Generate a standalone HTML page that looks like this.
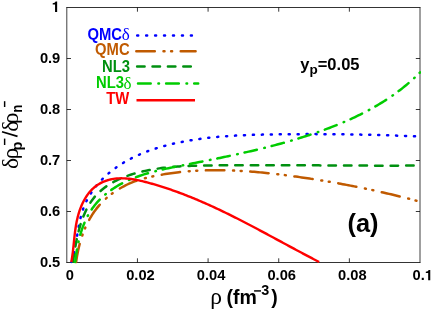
<!DOCTYPE html>
<html><head><meta charset="utf-8"><title>chart</title>
<style>html,body{margin:0;padding:0;background:#fff;}body{width:436px;height:311px;overflow:hidden;position:relative;font-family:"Liberation Sans",sans-serif;}</style>
</head><body>
<svg width="436" height="311" viewBox="0 0 436 311" style="position:absolute;left:0;top:0;display:block;will-change:transform">
<rect x="0" y="0" width="436" height="311" fill="#fff"/>
<defs><clipPath id="c"><rect x="66.8" y="7.5" width="354.2" height="256.5"/></clipPath></defs>
<path d="M66.3,7.5 H420.5 M66.3,262.5 H420.5" fill="none" stroke="#000" stroke-width="0.8"/>
<path d="M66.8,7.5 V262.5 M420.0,7.5 V262.5" fill="none" stroke="#000" stroke-width="0.75"/>
<path d="M137.44,262.5 v-4.2 M137.44,7.5 v4.2 M66.8,211.50 h4.2 M420.0,211.50 h-4.2 M208.08,262.5 v-4.2 M208.08,7.5 v4.2 M66.8,160.50 h4.2 M420.0,160.50 h-4.2 M278.72,262.5 v-4.2 M278.72,7.5 v4.2 M66.8,109.50 h4.2 M420.0,109.50 h-4.2 M349.36,262.5 v-4.2 M349.36,7.5 v4.2 M66.8,58.50 h4.2 M420.0,58.50 h-4.2" stroke="#000" stroke-width="0.78" fill="none"/>
<g clip-path="url(#c)" fill="none" stroke-linejoin="round">
<path d="M71.63,261.91 L72.24,260.00 L72.80,258.06 L73.32,256.09 L73.80,254.10 L74.25,252.09 L74.68,250.06 L75.08,248.01 L75.46,245.94 L75.82,243.86 L76.17,241.77 L76.51,239.67 L76.85,237.56 L77.19,235.45 L77.53,233.33 L77.87,231.22 L78.23,229.10 L78.61,226.99 L79.00,224.89 L79.41,222.79 L79.86,220.70 L80.33,218.62 L80.84,216.56 L81.38,214.52 L81.97,212.49 L82.60,210.48 L83.29,208.50 L84.03,206.54 L84.82,204.61 L85.67,202.70 L86.57,200.83 L87.53,198.98 L88.53,197.15 L89.58,195.36 L90.68,193.59 L91.83,191.85 L93.02,190.15 L94.25,188.47 L95.52,186.82 L96.83,185.20 L98.18,183.61 L99.56,182.05 L100.99,180.52 L102.44,179.03 L103.93,177.57 L105.44,176.13 L106.99,174.74 L108.56,173.37 L110.16,172.04 L111.78,170.74 L113.43,169.47 L115.10,168.23 L116.79,167.03 L118.51,165.86 L120.24,164.72 L122.00,163.61 L123.78,162.53 L125.58,161.47 L127.39,160.45 L129.23,159.46 L131.08,158.49 L132.95,157.55 L134.83,156.64 L136.73,155.75 L138.65,154.90 L140.58,154.06 L142.52,153.25 L144.48,152.47 L146.44,151.71 L148.42,150.97 L150.41,150.26 L152.42,149.57 L154.43,148.90 L156.45,148.26 L158.48,147.63 L160.51,147.03 L162.55,146.45 L164.60,145.88 L166.66,145.34 L168.72,144.81 L170.79,144.31 L172.85,143.82 L174.93,143.35 L177.00,142.90 L179.08,142.46 L181.15,142.04 L183.23,141.63 L185.31,141.24 L187.39,140.87 L189.47,140.51 L191.55,140.16 L193.62,139.83 L195.70,139.51 L197.78,139.20 L199.86,138.91 L201.94,138.63 L204.02,138.36 L206.10,138.11 L208.18,137.86 L210.26,137.63 L212.34,137.41 L214.42,137.20 L216.50,137.00 L218.58,136.81 L220.66,136.63 L222.74,136.46 L224.82,136.30 L226.90,136.15 L228.99,136.00 L231.07,135.87 L233.15,135.74 L235.24,135.62 L237.32,135.51 L239.41,135.40 L241.49,135.31 L243.58,135.21 L245.66,135.13 L247.75,135.05 L249.84,134.97 L251.93,134.90 L254.02,134.84 L256.11,134.78 L258.20,134.72 L260.29,134.67 L262.38,134.62 L264.47,134.58 L266.57,134.54 L268.66,134.50 L270.76,134.46 L272.85,134.42 L274.95,134.39 L277.05,134.36 L279.15,134.33 L281.25,134.30 L283.35,134.28 L285.45,134.25 L287.55,134.23 L289.65,134.21 L291.75,134.20 L293.86,134.18 L295.96,134.17 L298.07,134.15 L300.17,134.14 L302.28,134.13 L304.38,134.13 L306.49,134.12 L308.59,134.12 L310.70,134.12 L312.81,134.12 L314.92,134.12 L317.02,134.13 L319.13,134.14 L321.24,134.14 L323.35,134.15 L325.46,134.17 L327.56,134.18 L329.67,134.20 L331.78,134.21 L333.89,134.23 L336.00,134.25 L338.11,134.28 L340.21,134.30 L342.32,134.33 L344.43,134.36 L346.54,134.39 L348.64,134.42 L350.75,134.45 L352.86,134.49 L354.97,134.52 L357.07,134.56 L359.18,134.60 L361.28,134.64 L363.39,134.69 L365.49,134.73 L367.60,134.78 L369.70,134.83 L371.80,134.88 L373.90,134.94 L376.01,134.99 L378.11,135.05 L380.21,135.10 L382.31,135.16 L384.41,135.22 L386.50,135.29 L388.60,135.35 L390.70,135.42 L392.79,135.49 L394.89,135.56 L396.98,135.63 L399.07,135.70 L401.16,135.77 L403.26,135.85 L405.34,135.93 L407.43,136.01 L409.52,136.09 L411.61,136.17 L413.69,136.26 L415.78,136.34 L417.86,136.43 L419.94,136.52" stroke="#0000ff" stroke-width="2.5" stroke-linecap="round" stroke-dasharray="1.1 7.85"/>
<path d="M76.14,262.02 L76.41,260.07 L76.71,258.12 L77.03,256.16 L77.38,254.21 L77.76,252.26 L78.16,250.31 L78.59,248.37 L79.06,246.43 L79.55,244.49 L80.07,242.57 L80.62,240.65 L81.20,238.75 L81.81,236.85 L82.46,234.97 L83.14,233.10 L83.85,231.24 L84.59,229.40 L85.37,227.58 L86.18,225.77 L87.03,223.98 L87.91,222.21 L88.83,220.46 L89.78,218.73 L90.77,217.03 L91.80,215.35 L92.87,213.69 L93.97,212.07 L95.12,210.46 L96.30,208.89 L97.53,207.35 L98.79,205.83 L100.10,204.35 L101.44,202.90 L102.83,201.48 L104.26,200.10 L105.72,198.75 L107.22,197.44 L108.75,196.16 L110.31,194.92 L111.90,193.71 L113.52,192.54 L115.17,191.40 L116.84,190.30 L118.53,189.24 L120.25,188.22 L121.98,187.23 L123.73,186.28 L125.50,185.37 L127.29,184.50 L129.09,183.67 L130.91,182.88 L132.74,182.13 L134.59,181.42 L136.45,180.76 L138.32,180.14 L140.21,179.55 L142.11,179.00 L144.01,178.48 L145.92,177.98 L147.84,177.52 L149.77,177.07 L151.70,176.64 L153.63,176.23 L155.56,175.83 L157.49,175.45 L159.43,175.08 L161.37,174.73 L163.31,174.39 L165.26,174.06 L167.20,173.75 L169.15,173.46 L171.10,173.18 L173.06,172.91 L175.01,172.66 L176.97,172.42 L178.93,172.19 L180.89,171.98 L182.85,171.78 L184.82,171.59 L186.78,171.41 L188.75,171.25 L190.72,171.10 L192.69,170.96 L194.66,170.84 L196.63,170.72 L198.61,170.62 L200.58,170.53 L202.56,170.45 L204.54,170.39 L206.52,170.33 L208.50,170.28 L210.48,170.25 L212.46,170.22 L214.44,170.21 L216.43,170.21 L218.41,170.21 L220.40,170.23 L222.38,170.25 L224.37,170.29 L226.36,170.33 L228.34,170.39 L230.33,170.45 L232.32,170.52 L234.31,170.61 L236.29,170.70 L238.28,170.79 L240.27,170.90 L242.26,171.02 L244.25,171.14 L246.24,171.27 L248.23,171.41 L250.22,171.55 L252.20,171.70 L254.19,171.86 L256.18,172.03 L258.17,172.20 L260.15,172.38 L262.14,172.57 L264.12,172.76 L266.11,172.96 L268.09,173.17 L270.08,173.38 L272.06,173.60 L274.04,173.82 L276.02,174.05 L278.00,174.28 L279.98,174.52 L281.96,174.76 L283.94,175.01 L285.91,175.26 L287.89,175.51 L289.86,175.77 L291.83,176.04 L293.80,176.31 L295.77,176.58 L297.74,176.85 L299.70,177.13 L301.66,177.41 L303.63,177.70 L305.59,177.99 L307.55,178.28 L309.51,178.58 L311.46,178.88 L313.42,179.18 L315.37,179.48 L317.33,179.79 L319.28,180.11 L321.23,180.43 L323.18,180.75 L325.13,181.07 L327.07,181.40 L329.02,181.73 L330.96,182.06 L332.91,182.40 L334.85,182.75 L336.79,183.09 L338.74,183.44 L340.68,183.80 L342.62,184.15 L344.56,184.51 L346.50,184.88 L348.43,185.25 L350.37,185.62 L352.31,186.00 L354.25,186.38 L356.18,186.76 L358.12,187.15 L360.05,187.54 L361.99,187.93 L363.92,188.33 L365.86,188.74 L367.79,189.14 L369.72,189.56 L371.66,189.97 L373.59,190.39 L375.52,190.81 L377.46,191.24 L379.39,191.67 L381.32,192.11 L383.26,192.55 L385.19,192.99 L387.12,193.44 L389.06,193.89 L390.99,194.34 L392.92,194.80 L394.86,195.27 L396.79,195.73 L398.73,196.20 L400.66,196.68 L402.60,197.16 L404.53,197.65 L406.47,198.13 L408.41,198.63 L410.34,199.12 L412.28,199.63 L414.22,200.13 L416.16,200.64 L418.10,201.16 L420.04,201.67" stroke="#c05a00" stroke-width="2.5" stroke-linecap="round" stroke-dasharray="18.5 8.7 1.0 6.6 1.0 8.6"/>
<path d="M73.03,261.84 L73.28,260.02 L73.54,258.17 L73.81,256.29 L74.09,254.38 L74.38,252.44 L74.69,250.48 L75.02,248.51 L75.36,246.51 L75.72,244.50 L76.10,242.48 L76.50,240.45 L76.92,238.42 L77.37,236.38 L77.84,234.34 L78.34,232.30 L78.86,230.26 L79.42,228.23 L80.00,226.20 L80.62,224.19 L81.27,222.20 L81.95,220.22 L82.66,218.26 L83.42,216.32 L84.21,214.40 L85.04,212.51 L85.91,210.65 L86.82,208.82 L87.78,207.03 L88.77,205.28 L89.82,203.56 L90.91,201.89 L92.05,200.26 L93.23,198.68 L94.47,197.14 L95.76,195.66 L97.10,194.23 L98.48,192.85 L99.91,191.51 L101.38,190.22 L102.89,188.97 L104.44,187.77 L106.03,186.62 L107.65,185.50 L109.31,184.43 L111.01,183.40 L112.73,182.41 L114.49,181.46 L116.27,180.55 L118.08,179.67 L119.91,178.84 L121.77,178.03 L123.65,177.26 L125.54,176.53 L127.46,175.83 L129.39,175.16 L131.34,174.52 L133.30,173.92 L135.27,173.34 L137.26,172.79 L139.25,172.27 L141.24,171.77 L143.25,171.30 L145.25,170.86 L147.26,170.44 L149.26,170.04 L151.27,169.67 L153.28,169.31 L155.29,168.98 L157.30,168.67 L159.30,168.38 L161.31,168.11 L163.32,167.85 L165.33,167.62 L167.34,167.40 L169.35,167.19 L171.37,167.00 L173.38,166.83 L175.39,166.67 L177.40,166.52 L179.41,166.39 L181.43,166.27 L183.44,166.16 L185.45,166.06 L187.47,165.97 L189.48,165.89 L191.50,165.82 L193.51,165.75 L195.53,165.70 L197.54,165.65 L199.56,165.60 L201.57,165.56 L203.59,165.52 L205.61,165.49 L207.62,165.46 L209.64,165.44 L211.66,165.41 L213.68,165.39 L215.69,165.36 L217.71,165.34 L219.73,165.32 L221.75,165.30 L223.77,165.28 L225.79,165.27 L227.81,165.25 L229.83,165.24 L231.85,165.22 L233.87,165.21 L235.89,165.20 L237.91,165.19 L239.93,165.18 L241.95,165.17 L243.98,165.17 L246.00,165.16 L248.02,165.16 L250.04,165.15 L252.06,165.15 L254.09,165.15 L256.11,165.14 L258.13,165.14 L260.15,165.14 L262.18,165.14 L264.20,165.15 L266.22,165.15 L268.25,165.15 L270.27,165.15 L272.30,165.16 L274.32,165.16 L276.34,165.17 L278.37,165.17 L280.39,165.18 L282.42,165.19 L284.44,165.19 L286.47,165.20 L288.49,165.21 L290.52,165.22 L292.54,165.23 L294.57,165.24 L296.59,165.25 L298.62,165.26 L300.64,165.27 L302.67,165.28 L304.69,165.29 L306.72,165.30 L308.74,165.31 L310.77,165.32 L312.79,165.33 L314.82,165.35 L316.84,165.36 L318.87,165.37 L320.89,165.38 L322.92,165.39 L324.94,165.41 L326.97,165.42 L328.99,165.43 L331.02,165.44 L333.04,165.45 L335.07,165.46 L337.09,165.48 L339.12,165.49 L341.14,165.50 L343.17,165.51 L345.19,165.52 L347.22,165.53 L349.24,165.54 L351.27,165.55 L353.29,165.56 L355.31,165.57 L357.34,165.58 L359.36,165.59 L361.39,165.59 L363.41,165.60 L365.43,165.61 L367.46,165.61 L369.48,165.62 L371.50,165.62 L373.53,165.63 L375.55,165.63 L377.57,165.64 L379.59,165.64 L381.62,165.64 L383.64,165.64 L385.66,165.64 L387.68,165.64 L389.70,165.64 L391.73,165.64 L393.75,165.64 L395.77,165.63 L397.79,165.63 L399.81,165.62 L401.83,165.62 L403.85,165.61 L405.87,165.60 L407.89,165.59 L409.91,165.58 L411.93,165.57 L413.94,165.56 L415.96,165.54 L417.98,165.53 L420.00,165.51" stroke="#009010" stroke-width="2.5" stroke-linecap="round" stroke-dasharray="7.5 8.04"/>
<path d="M75.17,262.09 L75.41,260.03 L75.67,257.96 L75.95,255.89 L76.25,253.80 L76.58,251.71 L76.93,249.62 L77.31,247.52 L77.72,245.42 L78.16,243.33 L78.62,241.24 L79.12,239.16 L79.65,237.08 L80.21,235.01 L80.81,232.96 L81.45,230.92 L82.13,228.90 L82.84,226.90 L83.59,224.91 L84.39,222.95 L85.23,221.01 L86.11,219.11 L87.04,217.22 L88.01,215.37 L89.03,213.56 L90.11,211.77 L91.23,210.03 L92.40,208.32 L93.63,206.65 L94.90,205.02 L96.22,203.43 L97.58,201.88 L98.99,200.36 L100.45,198.89 L101.94,197.45 L103.47,196.05 L105.04,194.69 L106.64,193.37 L108.28,192.08 L109.95,190.84 L111.66,189.63 L113.39,188.46 L115.15,187.33 L116.94,186.23 L118.75,185.17 L120.58,184.15 L122.44,183.17 L124.31,182.22 L126.21,181.30 L128.13,180.42 L130.06,179.57 L132.01,178.75 L133.97,177.96 L135.94,177.20 L137.93,176.46 L139.92,175.76 L141.93,175.08 L143.94,174.43 L145.96,173.80 L147.98,173.20 L150.01,172.62 L152.04,172.06 L154.08,171.52 L156.12,171.01 L158.16,170.50 L160.20,170.02 L162.25,169.54 L164.30,169.09 L166.35,168.64 L168.40,168.20 L170.46,167.77 L172.52,167.35 L174.57,166.94 L176.63,166.53 L178.69,166.13 L180.75,165.72 L182.81,165.32 L184.88,164.92 L186.94,164.51 L189.00,164.11 L191.06,163.70 L193.12,163.30 L195.18,162.89 L197.24,162.48 L199.30,162.08 L201.36,161.67 L203.43,161.26 L205.49,160.85 L207.55,160.43 L209.61,160.02 L211.67,159.60 L213.73,159.18 L215.78,158.76 L217.84,158.34 L219.90,157.91 L221.96,157.49 L224.02,157.06 L226.07,156.62 L228.13,156.19 L230.18,155.75 L232.24,155.31 L234.29,154.86 L236.35,154.41 L238.40,153.96 L240.45,153.51 L242.50,153.05 L244.55,152.58 L246.60,152.12 L248.65,151.65 L250.69,151.17 L252.74,150.69 L254.79,150.21 L256.83,149.72 L258.87,149.22 L260.91,148.73 L262.95,148.22 L264.99,147.71 L267.03,147.20 L269.07,146.68 L271.10,146.16 L273.14,145.63 L275.17,145.09 L277.20,144.55 L279.23,144.00 L281.26,143.45 L283.28,142.89 L285.31,142.32 L287.33,141.75 L289.35,141.17 L291.37,140.58 L293.39,139.98 L295.41,139.38 L297.42,138.78 L299.43,138.16 L301.44,137.54 L303.45,136.91 L305.46,136.27 L307.46,135.62 L309.46,134.97 L311.47,134.31 L313.46,133.64 L315.46,132.96 L317.45,132.27 L319.44,131.58 L321.43,130.87 L323.41,130.16 L325.39,129.43 L327.37,128.70 L329.34,127.96 L331.31,127.20 L333.28,126.44 L335.24,125.67 L337.19,124.88 L339.14,124.09 L341.09,123.28 L343.03,122.46 L344.97,121.63 L346.90,120.79 L348.82,119.94 L350.74,119.07 L352.65,118.20 L354.55,117.31 L356.45,116.41 L358.34,115.49 L360.22,114.56 L362.10,113.62 L363.97,112.67 L365.83,111.70 L367.69,110.72 L369.53,109.72 L371.37,108.71 L373.20,107.69 L375.02,106.65 L376.83,105.59 L378.63,104.52 L380.42,103.44 L382.21,102.34 L383.98,101.23 L385.74,100.09 L387.50,98.95 L389.24,97.78 L390.97,96.61 L392.69,95.41 L394.41,94.20 L396.11,92.97 L397.79,91.72 L399.47,90.45 L401.14,89.17 L402.79,87.87 L404.43,86.55 L406.06,85.22 L407.68,83.86 L409.28,82.49 L410.87,81.10 L412.45,79.69 L414.01,78.26 L415.56,76.81 L417.10,75.34 L418.62,73.85 L420.13,72.34" stroke="#00cc00" stroke-width="2.5" stroke-linecap="round" stroke-dasharray="12.7 7.6 0.6 6.95"/>
<path d="M71.33,261.98 L71.62,260.37 L71.89,258.75 L72.14,257.14 L72.37,255.52 L72.59,253.90 L72.80,252.28 L72.99,250.66 L73.17,249.04 L73.35,247.42 L73.52,245.79 L73.69,244.17 L73.85,242.55 L74.02,240.93 L74.19,239.31 L74.36,237.69 L74.53,236.07 L74.72,234.45 L74.91,232.83 L75.12,231.22 L75.33,229.60 L75.57,227.99 L75.82,226.38 L76.08,224.78 L76.37,223.18 L76.68,221.58 L77.02,219.98 L77.38,218.39 L77.77,216.80 L78.19,215.21 L78.64,213.63 L79.12,212.05 L79.64,210.48 L80.20,208.91 L80.79,207.35 L81.43,205.79 L82.10,204.25 L82.81,202.73 L83.57,201.23 L84.37,199.75 L85.20,198.30 L86.09,196.87 L87.01,195.48 L87.98,194.13 L88.99,192.82 L90.05,191.55 L91.15,190.33 L92.30,189.16 L93.49,188.04 L94.73,186.98 L96.02,185.98 L97.35,185.04 L98.72,184.17 L100.12,183.36 L101.54,182.61 L102.99,181.93 L104.45,181.31 L105.92,180.76 L107.41,180.27 L108.91,179.84 L110.43,179.46 L111.95,179.14 L113.49,178.88 L115.03,178.67 L116.59,178.51 L118.15,178.40 L119.73,178.33 L121.31,178.31 L122.90,178.33 L124.49,178.39 L126.09,178.49 L127.70,178.63 L129.31,178.80 L130.93,179.00 L132.55,179.24 L134.17,179.50 L135.79,179.79 L137.41,180.11 L139.04,180.45 L140.67,180.80 L142.29,181.18 L143.91,181.58 L145.54,181.99 L147.16,182.42 L148.77,182.85 L150.39,183.30 L152.00,183.75 L153.60,184.21 L155.20,184.68 L156.80,185.16 L158.39,185.64 L159.97,186.13 L161.56,186.62 L163.14,187.12 L164.71,187.63 L166.28,188.15 L167.85,188.67 L169.41,189.20 L170.97,189.73 L172.53,190.27 L174.08,190.82 L175.63,191.38 L177.18,191.93 L178.72,192.50 L180.26,193.07 L181.79,193.65 L183.32,194.23 L184.85,194.82 L186.38,195.41 L187.90,196.01 L189.42,196.61 L190.93,197.22 L192.45,197.84 L193.96,198.46 L195.47,199.08 L196.97,199.71 L198.47,200.35 L199.97,200.99 L201.47,201.63 L202.96,202.28 L204.45,202.93 L205.94,203.59 L207.43,204.25 L208.91,204.92 L210.39,205.59 L211.87,206.27 L213.35,206.95 L214.83,207.63 L216.30,208.31 L217.77,209.01 L219.24,209.70 L220.71,210.40 L222.17,211.10 L223.64,211.80 L225.10,212.51 L226.56,213.22 L228.02,213.94 L229.48,214.66 L230.93,215.38 L232.39,216.10 L233.84,216.83 L235.29,217.56 L236.74,218.29 L238.19,219.03 L239.64,219.77 L241.09,220.51 L242.53,221.25 L243.98,221.99 L245.42,222.74 L246.86,223.49 L248.31,224.24 L249.75,225.00 L251.19,225.75 L252.63,226.51 L254.07,227.27 L255.51,228.03 L256.95,228.79 L258.39,229.56 L259.82,230.32 L261.26,231.09 L262.70,231.86 L264.14,232.63 L265.57,233.40 L267.01,234.17 L268.45,234.94 L269.88,235.72 L271.32,236.49 L272.76,237.27 L274.19,238.04 L275.63,238.82 L277.07,239.60 L278.51,240.37 L279.95,241.15 L281.39,241.93 L282.83,242.71 L284.27,243.49 L285.71,244.26 L287.15,245.04 L288.59,245.82 L290.04,246.60 L291.48,247.37 L292.93,248.15 L294.37,248.93 L295.82,249.70 L297.27,250.48 L298.72,251.25 L300.17,252.03 L301.62,252.80 L303.07,253.57 L304.53,254.34 L305.98,255.11 L307.44,255.88 L308.90,256.65 L310.36,257.41 L311.83,258.18 L313.29,258.94 L314.76,259.70 L316.22,260.46 L317.69,261.22 L319.17,261.97" stroke="#ff0000" stroke-width="2.4"/>
</g>
<text transform="translate(60.30,266.60) scale(1,1.02)" font-family="Liberation Sans, sans-serif" font-weight="bold" font-size="14.7" text-anchor="end" fill="#000" >0.5</text>
<text transform="translate(60.30,215.60) scale(1,1.02)" font-family="Liberation Sans, sans-serif" font-weight="bold" font-size="14.7" text-anchor="end" fill="#000" >0.6</text>
<text transform="translate(60.30,164.60) scale(1,1.02)" font-family="Liberation Sans, sans-serif" font-weight="bold" font-size="14.7" text-anchor="end" fill="#000" >0.7</text>
<text transform="translate(60.30,113.60) scale(1,1.02)" font-family="Liberation Sans, sans-serif" font-weight="bold" font-size="14.7" text-anchor="end" fill="#000" >0.8</text>
<text transform="translate(60.30,62.60) scale(1,1.02)" font-family="Liberation Sans, sans-serif" font-weight="bold" font-size="14.7" text-anchor="end" fill="#000" >0.9</text>
<path transform="translate(51.62,11.90) scale(0.00718,-0.00732)" d="M478 0V1000H150V1175Q470 1195 560 1409H770V0Z" fill="#000"/>
<text transform="translate(69.80,280.30) scale(1,1.02)" font-family="Liberation Sans, sans-serif" font-weight="bold" font-size="14.7" text-anchor="middle" fill="#000" >0</text>
<text transform="translate(140.44,280.30) scale(1,1.02)" font-family="Liberation Sans, sans-serif" font-weight="bold" font-size="14.7" text-anchor="middle" fill="#000" >0.02</text>
<text transform="translate(211.08,280.30) scale(1,1.02)" font-family="Liberation Sans, sans-serif" font-weight="bold" font-size="14.7" text-anchor="middle" fill="#000" >0.04</text>
<text transform="translate(281.72,280.30) scale(1,1.02)" font-family="Liberation Sans, sans-serif" font-weight="bold" font-size="14.7" text-anchor="middle" fill="#000" >0.06</text>
<text transform="translate(352.36,280.30) scale(1,1.02)" font-family="Liberation Sans, sans-serif" font-weight="bold" font-size="14.7" text-anchor="middle" fill="#000" >0.08</text>
<text transform="translate(412.48,280.30) scale(1,1.02)" font-family="Liberation Sans, sans-serif" font-weight="bold" font-size="14.7" text-anchor="start" fill="#000" >0.</text>
<path transform="translate(424.74,280.30) scale(0.00718,-0.00732)" d="M478 0V1000H150V1175Q470 1195 560 1409H770V0Z" fill="#000"/>
<text transform="translate(121.90,39.70) scale(1,1.09)" font-family="Liberation Sans, sans-serif" font-weight="bold" font-size="14.8" text-anchor="end" fill="#0000ff" >QMC</text>
<text x="121.70" y="40.20" font-family="Liberation Serif, serif" font-size="17.0" fill="#0000ff">δ</text>
<text transform="translate(129.60,54.50) scale(1,1.09)" font-family="Liberation Sans, sans-serif" font-weight="bold" font-size="14.8" text-anchor="end" fill="#c05a00" >QMC</text>
<text transform="translate(129.90,71.60) scale(1,1.09)" font-family="Liberation Sans, sans-serif" font-weight="bold" font-size="14.8" text-anchor="end" fill="#009010" >NL3</text>
<text transform="translate(124.00,87.70) scale(1,1.09)" font-family="Liberation Sans, sans-serif" font-weight="bold" font-size="14.8" text-anchor="end" fill="#00cc00" >NL3</text>
<text x="123.50" y="88.60" font-family="Liberation Serif, serif" font-size="17.0" fill="#00cc00">δ</text>
<text transform="translate(129.30,104.20) scale(1,1.09)" font-family="Liberation Sans, sans-serif" font-weight="bold" font-size="14.8" text-anchor="end" fill="#ff0000" >TW</text>
<g fill="none" stroke-width="2.5" stroke-linecap="round">
<path d="M137.2,35.4 H192.5" stroke="#0000ff" stroke-width="2.5" stroke-dasharray="1 7.95"/>
<path d="M136.3,51.2 H195.6" stroke="#c05a00" stroke-dasharray="18.5 8.7 1.0 6.6 1.0 8.6"/>
<path d="M137.1,66.6 H191.3" stroke="#009010" stroke-dasharray="7.5 7.9"/>
<path d="M138,83.4 H198.2" stroke="#00cc00" stroke-dasharray="12.7 7.7 0.6 7.1"/>
<path d="M136.5,100.3 H195" stroke="#ff0000" stroke-width="2.6" stroke-linecap="butt"/>
</g>
<text transform="translate(300.30,69.60) scale(1,1.0)" font-family="Liberation Sans, sans-serif" font-weight="bold" font-size="16.5" text-anchor="start" fill="#000" >y<tspan font-size="13.5" dy="4.3">p</tspan><tspan dy="-4.3">=0.05</tspan></text>
<text transform="translate(347.50,231.80) scale(1,1.035)" font-family="Liberation Sans, sans-serif" font-weight="bold" font-size="25.4" text-anchor="start" fill="#000" >(a)</text>
<text x="210.30" y="304.00" font-family="Liberation Serif, serif" font-size="23.5" fill="#000">ρ</text>
<text transform="translate(226.60,303.70) scale(1,1.04)" font-family="Liberation Sans, sans-serif" font-weight="bold" font-size="19.5" text-anchor="start" fill="#000" >(fm</text>
<rect x="254.1" y="290.2" width="6.9" height="1.45" fill="#000"/>
<text transform="translate(261.20,295.00) scale(1,1.04)" font-family="Liberation Sans, sans-serif" font-weight="bold" font-size="14.4" text-anchor="start" fill="#000" >3</text>
<text transform="translate(271.30,303.70) scale(1,1.04)" font-family="Liberation Sans, sans-serif" font-weight="bold" font-size="19.5" text-anchor="start" fill="#000" >)</text>
<g transform="translate(18.2,168.3) rotate(-90)">
<text x="-0.70" y="0.00" font-family="Liberation Serif, serif" font-size="23.6" fill="#000">δ</text>
<clipPath id="r"><rect x="-5" y="-30" width="90" height="33.7"/></clipPath>
<g clip-path="url(#r)"><text x="9.00" y="0.00" font-family="Liberation Serif, serif" font-size="23" fill="#000">ρ</text></g>
<text transform="translate(17.90,3.40) scale(1,1.04)" font-family="Liberation Sans, sans-serif" font-weight="bold" font-size="14.4" text-anchor="start" fill="#000" >p</text>
<rect x="23.3" y="-14.3" width="6.4" height="1.45" fill="#000"/>
<path d="M31.9,-0.7 L36.6,-16.2" stroke="#000" stroke-width="1.7" fill="none"/>
<text x="36.60" y="0.00" font-family="Liberation Serif, serif" font-size="23.6" fill="#000">δ</text>
<g clip-path="url(#r)"><text x="44.40" y="0.00" font-family="Liberation Serif, serif" font-size="23" fill="#000">ρ</text></g>
<text transform="translate(55.60,3.40) scale(1,1.04)" font-family="Liberation Sans, sans-serif" font-weight="bold" font-size="13.4" text-anchor="start" fill="#000" >n</text>
<rect x="61.3" y="-14.3" width="5.8" height="1.45" fill="#000"/>
</g>
</svg>
</body></html>
